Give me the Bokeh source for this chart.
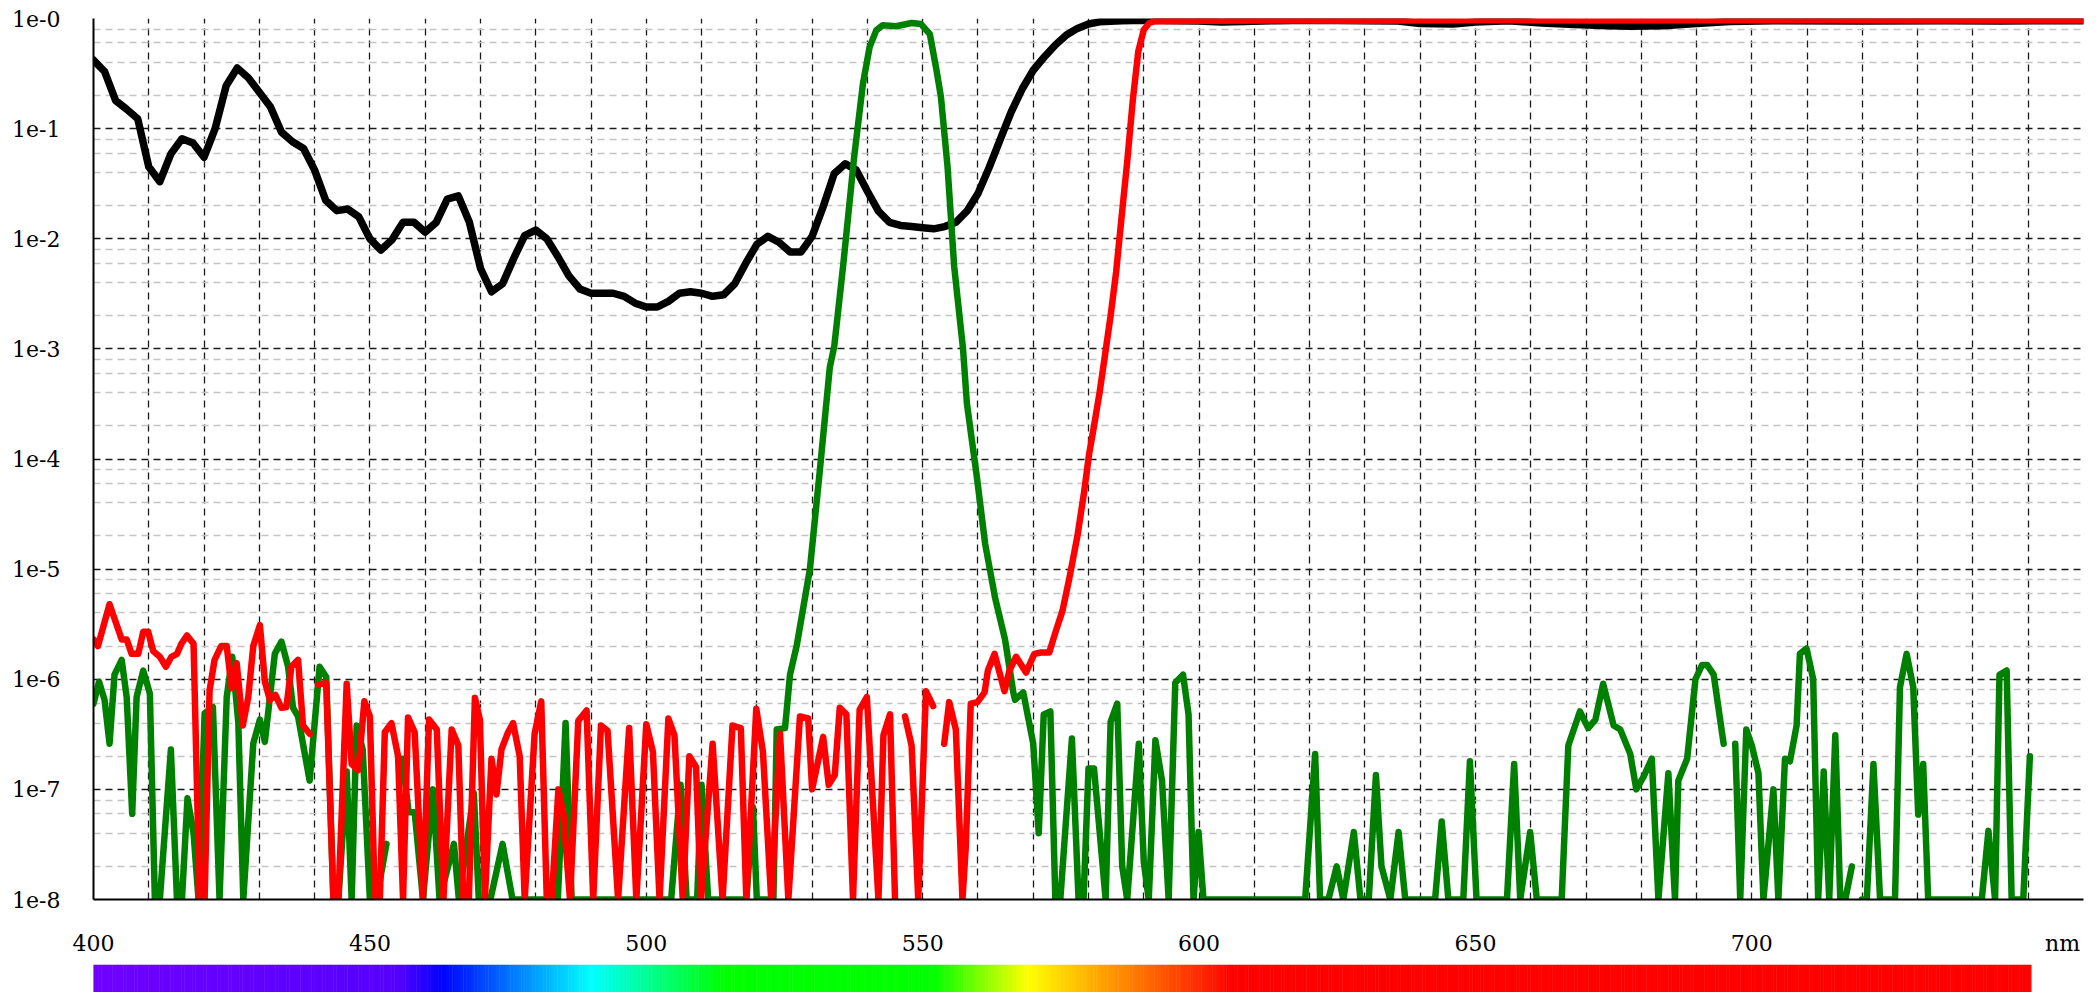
import numpy as np
from bokeh.plotting import figure
from bokeh.models import FixedTicker
from bokeh.layouts import column
from bokeh.embed import file_html
from bokeh.resources import INLINE

nan = float("nan")

# ---------------- data ----------------
black_nm = [400, 402, 404, 406, 408, 410, 412, 414, 416, 418, 420, 422, 424, 426, 428, 430, 432, 434, 436, 438,
            440, 442, 444, 446, 448, 450, 452, 454, 456, 458, 460, 462, 464, 466, 468, 470, 472, 474, 476, 478,
            480, 482, 484, 486, 488, 490, 492, 494, 496, 498, 500, 502, 504, 506, 508, 510, 512, 514, 516, 518,
            520, 522, 524, 526, 528, 530, 532, 534, 536, 538, 540, 542, 544, 546, 548, 550, 552, 554, 556, 558,
            560, 562, 564, 566, 568, 570, 572, 574, 576, 578, 580, 582, 586, 590, 596, 600, 604, 608, 614, 620,
            630, 636, 640, 646, 650, 656, 662, 668, 674, 678, 684, 690, 696, 704, 720, 735, 745, 760]
black_t = [0.42, 0.33, 0.18, 0.15, 0.123, 0.045, 0.033, 0.059, 0.081, 0.074, 0.055, 0.10, 0.245, 0.355, 0.29,
           0.214, 0.158, 0.093, 0.076, 0.066, 0.042, 0.0224, 0.018, 0.0186, 0.0158, 0.010, 0.0079, 0.0098, 0.0141,
           0.0141, 0.0115, 0.0141, 0.0229, 0.0245, 0.0141, 0.0054, 0.0033, 0.0039, 0.0066, 0.0107, 0.0120, 0.0100,
           0.0069, 0.0046, 0.0035, 0.0032, 0.0032, 0.0032, 0.0030, 0.0026, 0.0024, 0.0024, 0.0027, 0.0032, 0.0033,
           0.0032, 0.0030, 0.0031, 0.0039, 0.0060, 0.0089, 0.0105, 0.0093, 0.0076, 0.0076, 0.0105, 0.0195, 0.039,
           0.048, 0.042, 0.027, 0.0178, 0.0141, 0.0132, 0.0129, 0.0126, 0.0123, 0.0129, 0.0141, 0.0178, 0.0257,
           0.044, 0.079, 0.141, 0.229, 0.339, 0.447, 0.575, 0.708, 0.813, 0.891, 0.933, 0.955, 0.966, 0.955, 0.95,
           0.93, 0.94, 0.955, 0.966, 0.955, 0.95, 0.90, 0.89, 0.93, 0.955, 0.91, 0.88, 0.86, 0.85, 0.86, 0.90,
           0.94, 0.955, 0.95, 0.955, 0.95, 0.955]

green_nm = [400.0, 401.0, 402.0, 402.9, 403.8, 405.1, 406.0, 407.0, 407.8, 409.0, 410.2, 411.1, 412.0, 414.0,
            415.1, 416.0, 417.0, 418.1, 419.0, 420.1, 421.6, 422.8, 424.1, 425.1, 426.2, 427.1, 428.9, 430.1,
            431.0, 432.8, 434.0, 435.2, 436.1, 437.0, 439.1, 440.9, 442.1, 443.4, 444.3, 445.8, 446.7, 447.6,
            448.7, 450.0, 451.2, 453.0, 454.0, 455.9, 457.0, 458.1, 459.6, 461.4, 462.6, 465.2, 466.1, 468.8,
            469.7, 471.8, 474.0, 475.8, 484.0, 485.4, 486.5, 504.5, 506.2, 507.3, 509.2, 510.0, 511.2, 518.1,
            519.3, 520.0, 523.0, 523.6, 525.1, 526.0, 527.2, 529.6, 531.4, 533.2, 534.0, 535.6, 537.6, 539.2,
            540.4, 541.6, 542.8, 545.2, 548.0, 549.7, 551.3, 552.5, 553.3, 554.5, 555.7, 557.3, 558.0, 559.8,
            561.3, 563.1, 564.9, 566.4, 566.7, 568.2, 570.0, 571.0, 571.9, 573.1, 574.0, 574.9, 577.0, 578.2,
            579.1, 580.0, 581.0, 583.1, 584.0, 585.2, 586.1, 587.0, 589.1, 590.0, 590.9, 592.1, 593.3, 594.5,
            595.7, 597.1, 598.1, 599.0, 599.9, 600.8, 619.2, 621.0, 621.9, 623.4, 624.9, 626.1, 628.0, 629.2,
            630.7, 632.0, 633.0, 634.6, 636.1, 637.3, 642.7, 643.9, 645.1, 647.8, 649.0, 650.2, 655.7, 657.0,
            658.1, 659.9, 661.1, 665.6, 666.8, 668.9, 670.4, 671.7, 673.1, 675.0, 676.2, 678.0, 679.1, 680.4,
            681.9, 683.1, 684.9, 686.1, 686.7, 688.3, 689.8, 691.0, 691.9, 693.1, 694.9, 695.9, 697.0, 697.9,
            699.0, 700.0, 701.2, 702.1, 703.9, 704.8, 706.0, 706.9, 708.1, 708.7, 709.9, 711.1, 712.0, 713.0,
            714.0, 715.1, 716.0, 716.9, 718.1, 719.0, 719.9, 720.8, 722.0, 723.2, 725.9, 726.8, 728.0, 729.2,
            730.1, 731.0, 731.9, 741.6, 742.8, 744.0, 744.8, 746.1, 747.0, 749.1, 750.3]
green_t = [6.0e-7, 9.5e-7, 6.5e-7, 2.6e-7, 1.1e-6, 1.5e-6, 6.9e-7, 6.0e-8, 6.9e-7, 1.2e-6, 7.4e-7, 1e-8, 1e-8,
           2.3e-7, 1e-8, 1e-8, 8.3e-8, 4.0e-8, 1e-8, 4.9e-7, 5.6e-7, 1e-8, 6.9e-7, 1.6e-6, 4.0e-7, 1e-8, 2.6e-7,
           4.3e-7, 2.7e-7, 1.7e-6, 2.2e-6, 1.3e-6, 5.5e-7, 4.6e-7, 1.2e-7, 1.3e-6, 1.05e-6, 1e-8, 1e-8, 1.45e-7,
           1e-8, 3.8e-7, 2.3e-7, 1e-8, 1e-8, 3.2e-8, nan, 1.9e-7, 6.2e-8, 6.2e-8, 1e-8, 1.0e-7, 1e-8, 3.2e-8,
           1e-8, 9.3e-8, 1e-8, 1e-8, 3.2e-8, 1e-8, 1e-8, 4.0e-7, 1e-8, 1e-8, 1.1e-7, 1e-8, 1e-8, 1.1e-7, 1e-8,
           1e-8, 6.9e-8, 1e-8, 1e-8, 3.5e-7, 3.6e-7, 1.1e-6, 2.0e-6, 1.0e-5, 7.9e-5, 6.8e-4, 1.05e-3, 5.6e-3,
           5.5e-2, 0.257, 0.55, 0.78, 0.87, 0.85, 0.91, 0.89, 0.72, 0.34, 0.195, 0.045, 5.6e-3, 1.0e-3, 3.2e-4,
           6.9e-5, 1.7e-5, 5.5e-6, 2.3e-6, 7.6e-7, 6.5e-7, 7.6e-7, 2.6e-7, 4.0e-8, 4.8e-7, 5.1e-7, 1e-8, 1e-8,
           2.9e-7, 1e-8, 1e-8, 1.55e-7, 1.55e-7, 1e-8, 4.1e-7, 6.0e-7, 2.0e-8, 1e-8, 2.6e-7, 2.2e-8, 1e-8,
           2.8e-7, 1.2e-7, 1e-8, 9.3e-7, 1.1e-6, 4.8e-7, 1e-8, 4.1e-8, 1e-8, 1e-8, 2.1e-7, 1e-8, 1e-8, 2.0e-8,
           1e-8, 4.1e-8, 1e-8, 1e-8, 1.35e-7, 2.0e-8, 1e-8, 4.1e-8, 1e-8, 1e-8, 5.1e-8, 1e-8, 1e-8, 1.8e-7,
           1e-8, 1e-8, 1.7e-7, 1e-8, 4.1e-8, 1e-8, 1e-8, 2.5e-7, 5.1e-7, 3.6e-7, 4.3e-7, 9.1e-7, 3.8e-7,
           3.5e-7, 2.1e-7, 1.0e-7, 1.3e-7, 1.9e-7, 1e-8, 1.4e-7, 1e-8, 1.2e-7, 1.9e-7, 1.0e-6, 1.35e-6, 1.35e-6,
           1.1e-6, 2.6e-7, nan, 2.6e-7, 1e-8, 3.5e-7, 2.5e-7, 1.4e-7, 1e-8, 1.0e-7, 1e-8, 1.9e-7, 1.8e-7,
           3.8e-7, 1.7e-6, 1.9e-6, 1.0e-6, 1e-8, 1.45e-7, 1e-8, 3.1e-7, 1e-8, 1e-8, 2.0e-8, nan, 1e-8, 1e-8,
           1.7e-7, 1e-8, 1e-8, 8.5e-7, 1.7e-6, 8.5e-7, 5.9e-8, 1.7e-7, 1e-8, 1e-8, 4.2e-8, 1e-8, 1.1e-6,
           1.2e-6, 1e-8, 1e-8, 2.0e-7]

red_nm = [400.0, 400.8, 402.9, 405.1, 406.0, 406.9, 408.1, 409.0, 409.9, 410.8, 412.0, 413.1, 414.1, 415.1,
          415.9, 416.9, 418.1, 419.2, 420.1, 421.0, 421.9, 423.1, 424.1, 425.0, 425.9, 427.0, 428.0, 428.9,
          430.1, 431.0, 431.9, 432.9, 434.0, 434.9, 435.8, 437.0, 437.9, 439.1, 439.8, 440.6, 442.1, 443.4,
          444.3, 445.8, 446.7, 447.9, 449.0, 450.0, 450.9, 451.8, 452.7, 453.9, 455.1, 456.0, 456.9, 458.1,
          459.6, 460.7, 462.1, 463.3, 464.8, 466.0, 466.9, 467.9, 469.0, 469.9, 470.8, 472.0, 472.9, 473.8,
          475.0, 475.9, 477.1, 478.0, 479.8, 481.0, 482.0, 482.9, 484.1, 485.0, 486.2, 487.7, 489.2, 490.4,
          491.8, 493.0, 494.9, 496.9, 498.2, 500.0, 501.2, 502.4, 504.0, 505.1, 506.6, 507.8, 509.0, 509.9,
          512.0, 513.8, 515.6, 517.1, 518.1, 519.9, 521.1, 522.6, 524.2, 525.7, 527.8, 529.3, 530.0, 532.0,
          533.0, 534.1, 535.0, 536.2, 537.4, 538.6, 539.9, 542.0, 542.9, 544.1, 545.0, 545.9, 546.8, 548.0,
          549.2, 550.6, 551.9, 552.8, 553.9, 554.8, 556.0, 557.2, 557.8, 558.7, 559.9, 561.2, 561.8, 563.0,
          564.8, 565.7, 566.9, 568.7, 570.2, 571.4, 572.9, 574.1, 575.3, 576.5, 578.0, 579.2, 580.1, 581, 582,
          583, 584, 585, 586, 587, 588, 589, 590, 591, 592, 600, 615, 630, 652, 670, 690, 710, 730, 760]
red_t = [2.3e-6, 2.0e-6, 4.8e-6, 2.3e-6, 2.3e-6, 1.7e-6, 1.7e-6, 2.7e-6, 2.7e-6, 1.8e-6, 1.6e-6, 1.3e-6, 1.6e-6,
         1.7e-6, 2.1e-6, 2.5e-6, 2.1e-6, 1e-8, 1e-8, 7.9e-7, 1.5e-6, 2.0e-6, 2.0e-6, 8.3e-7, 1.4e-6, 3.8e-7,
         6.9e-7, 2.0e-6, 3.1e-6, 9.5e-7, 6.5e-7, 7.2e-7, 5.5e-7, 5.6e-7, 1.3e-6, 1.5e-6, 3.8e-7, 3.2e-7, nan,
         8.9e-7, 9.3e-7, 1e-8, 1e-8, 9.1e-7, 1.7e-7, 1.5e-7, 6.3e-7, 4.6e-7, 1e-8, 1e-8, 3.3e-7, 4.0e-7, 2.0e-7,
         1e-8, 4.5e-7, 3.3e-7, 1e-8, 4.3e-7, 3.5e-7, 1e-8, 3.5e-7, 2.5e-7, 1e-8, 1e-8, 6.8e-7, 4.3e-7, 1e-8,
         1.9e-7, 9.0e-8, 2.3e-7, 3.3e-7, 4.0e-7, 2.0e-7, 1e-8, 3.2e-7, 6.3e-7, 1e-8, 1e-8, 1.0e-7, 6.0e-8, 1e-8,
         4.2e-7, 5.2e-7, 1e-8, 3.8e-7, 3.4e-7, 1e-8, 3.6e-7, 1e-8, 3.9e-7, 2.2e-7, 1e-8, 4.4e-7, 3.1e-7, 1e-8,
         2.0e-7, 1.6e-7, 1e-8, 2.6e-7, 1e-8, 3.8e-7, 3.6e-7, 1e-8, 5.4e-7, 2.2e-7, 1e-8, 3.2e-7, 1e-8, 4.6e-7,
         4.4e-7, 1.0e-7, 3.0e-7, 1.1e-7, 1.35e-7, 5.5e-7, 4.8e-7, 1e-8, 5.3e-7, 6.9e-7, 1e-8, 3.1e-7, 4.8e-7,
         1e-8, nan, 4.6e-7, 2.5e-7, 1e-8, 7.8e-7, 5.7e-7, nan, 2.6e-7, 6.2e-7, 3.5e-7, 1e-8, 3.0e-8, 6.0e-7,
         6.2e-7, 7.6e-7, 1.2e-6, 1.7e-6, 7.8e-7, 1.2e-6, 1.6e-6, 1.15e-6, 1.7e-6, 1.75e-6, 1.75e-6, 2.75e-6,
         4.2e-6, 8.1e-6, 2.0e-5, 5.0e-5, 1.1e-4, 2.0e-4, 4.0e-4, 8.9e-4, 2.0e-3, 5.0e-3, 1.6e-2, 5.0e-2, 0.178,
         0.5, 0.79, 0.91, 0.944, 0.955, 0.96, 0.955, 0.968, 0.96, 0.962, 0.968, 0.96, 0.96]

x_ticks = [400, 450, 500, 550, 600, 650, 700]
x_tick_labels = ["400", "450", "500", "550", "600", "650", "700"]
unit_pos = 756.2
unit_text = "nm"
y_ticks = [1e-8, 1e-7, 1e-6, 1e-5, 1e-4, 1e-3, 1e-2, 1e-1, 1.0]
y_tick_labels = ["1e-8", "1e-7", "1e-6", "1e-5", "1e-4", "1e-3", "1e-2", "1e-1", "1e-0"]

# spectrum bar colour stops (wavelength -> rgb)
spec_nm = [399.4, 455, 463, 490, 514, 552, 569, 582, 606, 750.6]
spec_rgb = [(110, 0, 255), (85, 0, 255), (0, 0, 255), (0, 255, 255), (0, 255, 0), (0, 255, 0),
            (255, 255, 0), (255, 165, 0), (255, 0, 0), (255, 0, 0)]

FONT = "DejaVu Serif"
X0, X1 = 400, 760

# ---------------- main plot ----------------
p = figure(x_range=(X0, X1), y_range=(1e-8, 1.0), y_axis_type="log",
           frame_width=1990, frame_height=881,
           min_border_left=93, min_border_right=8, min_border_top=18, min_border_bottom=65,
           output_backend="svg", toolbar_location=None, background_fill_color="white",
           border_fill_color="white")
p.outline_line_color = None

minor = []
for d in range(-8, 0):
    for m in (2, 4, 6, 8):
        minor.append(m * 10.0 ** d)

p.yaxis.ticker = FixedTicker(ticks=y_ticks, minor_ticks=minor)
p.yaxis.major_label_overrides = {t: l for t, l in zip(y_ticks, y_tick_labels)}
p.xaxis.ticker = FixedTicker(ticks=x_ticks + [unit_pos])
xover = {t: l for t, l in zip(x_ticks, x_tick_labels)}
xover[unit_pos] = unit_text
p.xaxis.major_label_overrides = xover

for ax in (p.xaxis[0], p.yaxis[0]):
    ax.axis_line_color = "black"
    ax.axis_line_width = 2
    ax.major_tick_line_color = None
    ax.minor_tick_line_color = None
    ax.major_tick_out = 0
    ax.major_tick_in = 0
    ax.minor_tick_out = 0
    ax.major_label_text_font = FONT
    ax.major_label_text_font_size = "22px"
    ax.major_label_text_color = "black"
p.yaxis.major_label_standoff = 33
p.xaxis.major_label_standoff = 31

p.xgrid.ticker = FixedTicker(ticks=list(range(400, 761, 10)))
p.xgrid.grid_line_color = "#1a1a1a"
p.xgrid.grid_line_width = 1.3
p.xgrid.grid_line_dash = "7 5"
p.ygrid.grid_line_color = "#1a1a1a"
p.ygrid.grid_line_width = 1.3
p.ygrid.grid_line_dash = "7 5"
p.ygrid.minor_grid_line_color = "#c4c4c4"
p.ygrid.minor_grid_line_width = 1.3
p.ygrid.minor_grid_line_dash = "7 5"

p.line(black_nm, black_t, line_color="black", line_width=7.5, line_join="round", line_cap="round")
p.line(green_nm, green_t, line_color="#008000", line_width=6.5, line_join="round", line_cap="round")
p.line(red_nm, red_t, line_color="#ff0000", line_width=6.5, line_join="round", line_cap="round")

# ---------------- spectrum bar ----------------
cb = figure(x_range=p.x_range, y_range=(0, 1), frame_width=1990, frame_height=28,
            min_border_left=93, min_border_right=8, min_border_top=0, min_border_bottom=0,
            output_backend="svg", toolbar_location=None, background_fill_color="white",
            border_fill_color="white")
cb.outline_line_color = None
cb.axis.visible = False
cb.grid.visible = False

step = 0.5
lefts = np.arange(spec_nm[0], spec_nm[-1], step)
mids = lefts + step / 2
rights = np.minimum(lefts + step + 0.08, spec_nm[-1])
rs = np.interp(mids, spec_nm, [c[0] for c in spec_rgb])
gs = np.interp(mids, spec_nm, [c[1] for c in spec_rgb])
bs = np.interp(mids, spec_nm, [c[2] for c in spec_rgb])
cols = ["#%02x%02x%02x" % (int(round(r)), int(round(g)), int(round(b))) for r, g, b in zip(rs, gs, bs)]
cb.quad(left=lefts, right=rights, bottom=0, top=1, fill_color=cols, line_color=None)

layout = column(p, cb, spacing=0)
open("out.html", "w").write(file_html(layout, INLINE))
